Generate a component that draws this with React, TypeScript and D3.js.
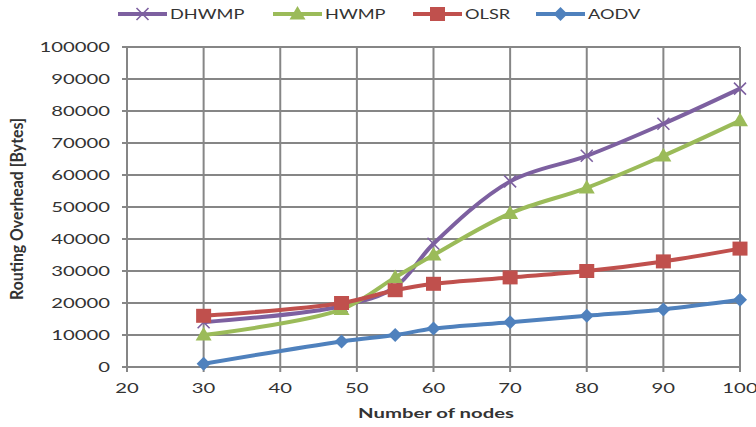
import React from "react";
import * as d3 from "d3";

const nodes = [30, 48, 55, 60, 70, 80, 90, 100];
const dhwmp = [14000, 19000, 25000, 38500, 58000, 66000, 76000, 87000];
const hwmp = [10000, 18000, 28000, 35000, 48000, 56000, 66000, 77000];
const olsr = [16000, 20000, 24000, 26000, 28000, 30000, 33000, 37000];
const aodv = [1000, 8000, 10000, 12000, 14000, 16000, 18000, 21000];
const seriesNames = ["DHWMP", "HWMP", "OLSR", "AODV"];
const xTicks = [20, 30, 40, 50, 60, 70, 80, 90, 100];
const yTicks = [0, 10000, 20000, 30000, 40000, 50000, 60000, 70000, 80000, 90000, 100000];

const colors = ["#7d60a0", "#9bbb59", "#c0504d", "#4f81bd"];
const markers = ["x", "triangle", "square", "diamond"];
const SX = 1.45;
const FONT = "Lato, 'Open Sans', sans-serif";
const TEXT = "#333";

function Marker({ type, x, y, color }: { type: string; x: number; y: number; color: string }) {
  if (type === "square") {
    return <rect x={x - 7.5} y={y - 7} width={15} height={14} fill={color} />;
  }
  if (type === "diamond") {
    const r = 7;
    return <path d={`M${x},${y - r}L${x + r},${y}L${x},${y + r}L${x - r},${y}Z`} fill={color} />;
  }
  if (type === "triangle") {
    const r = 8;
    return <path d={`M${x},${y - r}L${x + r},${y + r * 0.7}L${x - r},${y + r * 0.7}Z`} fill={color} />;
  }
  const r = 6;
  return (
    <path d={`M${x - r},${y - r}L${x + r},${y + r}M${x - r},${y + r}L${x + r},${y - r}`} stroke={color} strokeWidth={1.6} fill="none" />
  );
}

export default function App() {
  const left = 127, right = 740, top = 47, bottom = 367;
  const x = d3.scaleLinear().domain([20, 100]).range([left, right]);
  const y = d3.scaleLinear().domain([0, 100000]).range([bottom, top]);
  const data = [dhwmp, hwmp, olsr, aodv];
  const line = d3
    .line<[number, number]>()
    .x((d) => x(d[0]))
    .y((d) => y(d[1]))
    .curve(d3.curveCatmullRom.alpha(0.5));
  const grid = "#868686";
  const legendX = [118, 273, 413, 536];

  return (
    <svg width={756} height={427} style={{ position: "absolute", left: 0, top: 0, background: "#fff" }}>
      {/* horizontal gridlines */}
      {yTicks.map((t) => (
        <line key={"h" + t} x1={left - 5} x2={right} y1={y(t)} y2={y(t)} stroke={grid} strokeWidth={2} />
      ))}
      {/* vertical gridlines & ticks */}
      {xTicks.map((t) => (
        <line key={"v" + t} x1={x(t)} x2={x(t)} y1={top} y2={bottom + 5} stroke={grid} strokeWidth={2} />
      ))}
      {/* y tick labels */}
      {yTicks.map((t) => (
        <text
          key={"yl" + t}
          transform={`translate(110,${y(t) + 5}) scale(${SX},1)`}
          textAnchor="end"
          fontFamily={FONT}
          fontSize={14}
          fill={TEXT}
        >
          {t}
        </text>
      ))}
      {/* x tick labels */}
      {xTicks.map((t) => (
        <text
          key={"xl" + t}
          transform={`translate(${x(t)},${393}) scale(${SX},1)`}
          textAnchor="middle"
          fontFamily={FONT}
          fontSize={14}
          fill={TEXT}
        >
          {t}
        </text>
      ))}
      {/* axis titles */}
      <text
        transform={`translate(436,418) scale(${SX},1)`}
        textAnchor="middle"
        fontFamily={FONT}
        fontSize={14}
        fontWeight="bold"
        fill={TEXT}
      >
        Number of nodes
      </text>
      <text
        transform={`translate(23,209) scale(1.3,1) rotate(-90)`}
        textAnchor="middle"
        fontFamily={FONT}
        fontSize={13}
        fontWeight="bold"
        fill={TEXT}
        textLength={182}
        lengthAdjust="spacingAndGlyphs"
      >
        Routing Overhead [Bytes]
      </text>
      {/* series */}
      {data.map((vals, i) => {
        const pts: [number, number][] = nodes.map((n, j) => [n, vals[j]]);
        return (
          <g key={seriesNames[i]}>
            <path d={line(pts) || ""} fill="none" stroke={colors[i]} strokeWidth={4} />
            {pts.map((p, j) => (
              <Marker key={j} type={markers[i]} x={x(p[0])} y={y(p[1])} color={colors[i]} />
            ))}
          </g>
        );
      })}
      {/* legend */}
      {seriesNames.map((name, i) => (
        <g key={"lg" + name}>
          <line x1={legendX[i]} x2={legendX[i] + 49} y1={14} y2={14} stroke={colors[i]} strokeWidth={4} />
          <Marker type={markers[i]} x={legendX[i] + 24.5} y={14} color={colors[i]} />
          <text
            transform={`translate(${legendX[i] + 52},19) scale(1.3,1)`}
            fontFamily={FONT}
            fontSize={14}
            fill={TEXT}
          >
            {name}
          </text>
        </g>
      ))}
    </svg>
  );
}
